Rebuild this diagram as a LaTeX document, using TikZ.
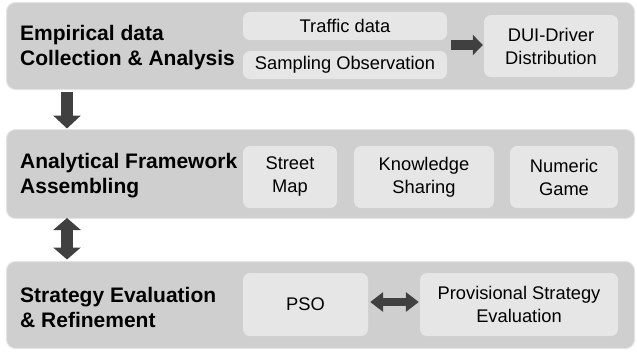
\documentclass[tikz,border=0pt]{standalone}
\usepackage{fontspec}
\setmainfont{Liberation Sans}
\usetikzlibrary{arrows.meta,calc}
\definecolor{panelfill}{HTML}{CFCFCF}
\definecolor{panelline}{HTML}{E4E4E4}
\definecolor{innerfill}{HTML}{E6E6E6}
\definecolor{arrowcol}{HTML}{404040}
\tikzset{
  panel/.style={fill=panelfill, draw=panelline, line width=1bp, rounded corners=9bp, anchor=north west, inner sep=0pt},
  inner/.style={fill=innerfill, draw=none, rounded corners=7bp, inner sep=0pt, align=center,
    font=\fontsize{18.3bp}{23bp}\selectfont},
  title/.style={anchor=west, align=left, inner sep=0pt, font=\fontsize{21bp}{25bp}\selectfont\bfseries},
  vblock/.style={draw=arrowcol, line width=12bp, -{Triangle[width=27bp,length=13bp]}},
  vdouble/.style={draw=arrowcol, line width=12bp, {Triangle[width=27bp,length=12bp]}-{Triangle[width=27bp,length=12bp]}},
  hblock/.style={draw=arrowcol, line width=10bp, -{Triangle[width=20bp,length=10bp]}},
  hdouble/.style={draw=arrowcol, line width=8bp, {Triangle[width=19bp,length=13bp]}-{Triangle[width=19bp,length=13bp]}},
}
\begin{document}
\begin{tikzpicture}[x=1bp,y=-1bp]
\useasboundingbox (0,0) rectangle (637,352);
% panels
\node[panel, minimum width=628bp, minimum height=87bp] (p1) at (6,2) {};
\node[panel, minimum width=628bp, minimum height=89bp] (p2) at (6,129) {};
\node[panel, minimum width=628bp, minimum height=87bp] (p3) at (6,261) {};
% titles
\node[title] (t1) at (20,48) {Empirical data\\Collection \& Analysis};
\node[title] (t2) at (20,176) {Analytical Framework\\Assembling};
\node[title] (t3) at (20,307) {Strategy Evaluation\\\& Refinement};
% panel 1 inner
\node[inner, minimum width=204bp, minimum height=28bp] (traffic) at (345,26) {Traffic data};
\node[inner, minimum width=204bp, minimum height=28bp] (sampling) at (345,65) {Sampling Observation};
\node[inner, minimum width=134bp, minimum height=62bp] (dui) at (551,46) {DUI-Driver\\Distribution};
% panel 2 inner
\node[inner, minimum width=94bp, minimum height=62bp] (street) at (290,177) {Street\\Map};
\node[inner, minimum width=140bp, minimum height=62bp] (know) at (424,177) {Knowledge\\Sharing};
\node[inner, minimum width=108bp, minimum height=62bp] (numeric) at (564,177) {Numeric\\Game};
% panel 3 inner
\node[inner, minimum width=125bp, minimum height=63bp] (pso) at (305.5,304.5) {PSO};
\node[inner, minimum width=198bp, minimum height=63bp] (prov) at (519,304.5) {Provisional Strategy\\Evaluation};
% arrows
\coordinate (a1s) at (67,92);
\coordinate (a1e) at (67,128.5);
\draw[vblock] (a1s) -- (a1e);
\coordinate (a2s) at (67,218);
\coordinate (a2e) at (67,259.5);
\draw[vdouble] (a2s) -- (a2e);
\draw[hblock] ([xshift=4bp]traffic.east |- 0,45) -- ([xshift=-1bp]dui.west |- 0,45);
\draw[hdouble] ([xshift=2bp]pso.east |- 0,302) -- ([xshift=-1bp]prov.west |- 0,302);
\end{tikzpicture}
\end{document}
